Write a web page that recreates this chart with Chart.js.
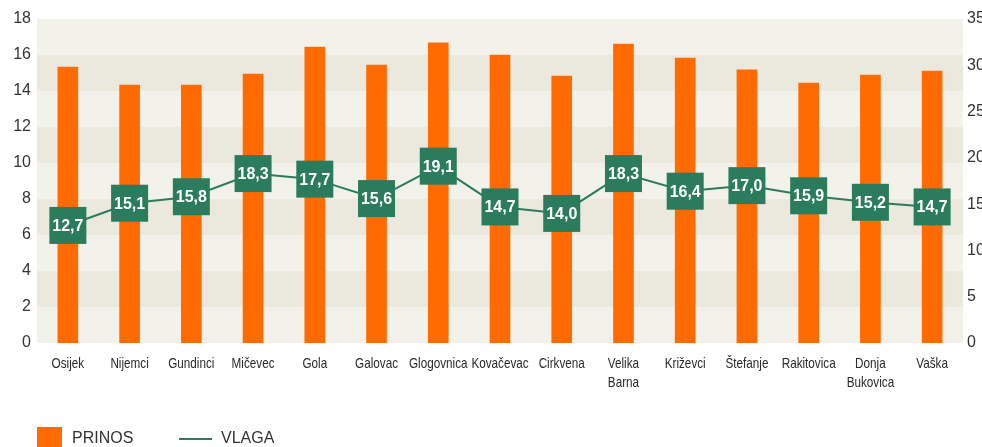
<!DOCTYPE html>
<html>
<head>
<meta charset="utf-8">
<script src="https://cdn.jsdelivr.net/npm/chart.js@4"></script>
<style>
    html, body { margin: 0; padding: 0; background: #fff; overflow: hidden; }
    #wrap { position: relative; width: 1000px; height: 447px; }
</style>
</head>
<body>
<div id="wrap"><canvas id="chart"></canvas></div>
<script>
// Chart data
const categories = ['Osijek', 'Nijemci', 'Gundinci', 'Mičevec', 'Gola', 'Galovac', 'Glogovnica', 'Kovačevac',
    'Cirkvena', ['Velika', 'Barna'], 'Križevci', 'Štefanje', 'Rakitovica', ['Donja', 'Bukovica'], 'Vaška'];
const prinos = [15.33, 14.33, 14.33, 14.94, 16.44, 15.44, 16.67, 16.0, 14.83, 16.61, 15.83, 15.17, 14.44, 14.89, 15.11];
const vlaga = [12.7, 15.1, 15.8, 18.3, 17.7, 15.6, 19.1, 14.7, 14.0, 18.3, 16.4, 17.0, 15.9, 15.2, 14.7];
const leftTicks = [0, 2, 4, 6, 8, 10, 12, 14, 16, 18];
const rightTicks = [0, 5, 10, 15, 20, 25, 30, 35];

const ORANGE = '#ff6b00';
const GREEN = '#2b7c5d';
const TEXT = '#333333';

// Alternating background bands behind the plot
const bandsPlugin = {
    id: 'bands',
    beforeDatasetsDraw(chart) {
        const { ctx, chartArea } = chart;
        const y = chart.scales.y;
        ctx.save();
        for (let i = 0; i < leftTicks.length - 1; i++) {
            const top = y.getPixelForValue(leftTicks[i + 1]);
            const bottom = y.getPixelForValue(leftTicks[i]);
            ctx.fillStyle = (i % 2 === 1) ? '#ebe9dd' : '#f3f2ea';
            ctx.fillRect(chartArea.left, top, chartArea.right - chartArea.left, bottom - top);
        }
        ctx.restore();
    }
};

// Condensed category labels (no narrow font available, so squeeze the regular one)
const xLabelsPlugin = {
    id: 'xLabels',
    afterDraw(chart) {
        const { ctx, chartArea } = chart;
        const x = chart.scales.x;
        ctx.save();
        ctx.font = '15px "Liberation Sans", Arial, sans-serif';
        ctx.fillStyle = '#2a2a2a';
        ctx.textAlign = 'center';
        ctx.textBaseline = 'middle';
        categories.forEach((label, i) => {
            const lines = Array.isArray(label) ? label : [label];
            const cx = x.getPixelForValue(i);
            lines.forEach((line, j) => {
                ctx.save();
                ctx.translate(cx, chartArea.bottom + 21 + j * 18.5);
                ctx.scale(0.78, 1);
                ctx.fillText(line, 0, 0);
                ctx.restore();
            });
        });
        ctx.restore();
    }
};

// Green boxes with the moisture values
const boxLabelsPlugin = {
    id: 'boxLabels',
    afterDatasetsDraw(chart) {
        const { ctx } = chart;
        const meta = chart.getDatasetMeta(1);
        ctx.save();
        ctx.font = 'bold 16px "Liberation Sans", Arial, sans-serif';
        ctx.textAlign = 'center';
        ctx.textBaseline = 'middle';
        meta.data.forEach((pt, i) => {
            ctx.fillStyle = GREEN;
            ctx.fillRect(pt.x - 18.5, pt.y - 18.5, 37, 37);
            ctx.fillStyle = '#ffffff';
            ctx.fillText(vlaga[i].toFixed(1).replace('.', ','), pt.x, pt.y + 1);
        });
        ctx.restore();
    }
};

// Legend under the axis
const legendPlugin = {
    id: 'customLegend',
    afterDraw(chart) {
        const { ctx } = chart;
        const ds = chart.data.datasets;
        const cy = 439;
        ctx.save();
        ctx.fillStyle = ds[0].backgroundColor;
        ctx.fillRect(37, 427, 25, 22);
        ctx.font = '16px "Liberation Sans", Arial, sans-serif';
        ctx.textBaseline = 'middle';
        ctx.fillStyle = TEXT;
        ctx.fillText(ds[0].label, 72, cy);
        ctx.strokeStyle = ds[1].borderColor;
        ctx.lineWidth = 2;
        ctx.beginPath();
        ctx.moveTo(179, cy);
        ctx.lineTo(212, cy);
        ctx.stroke();
        ctx.fillText(ds[1].label, 221, cy);
        ctx.restore();
    }
};

new Chart(document.getElementById('chart'), {
    data: {
        labels: categories,
        datasets: [{
            type: 'bar',
            label: 'PRINOS',
            data: prinos,
            backgroundColor: ORANGE,
            barThickness: 20,
            yAxisID: 'y',
            order: 2,
        }, {
            type: 'line',
            label: 'VLAGA',
            data: vlaga,
            borderColor: GREEN,
            borderWidth: 2,
            pointRadius: 0,
            tension: 0,
            yAxisID: 'y1',
            order: 1,
        }],
    },
    options: {
        responsive: true,
        maintainAspectRatio: false,
        animation: false,
        layout: { padding: { top: 19, left: 0, right: 0, bottom: 0 } },
        plugins: {
            legend: { display: false },
            tooltip: { enabled: false },
        },
        scales: {
            x: {
                grid: { display: false, drawTicks: false },
                border: { display: false },
                ticks: { display: false },
                afterFit(scale) { scale.height = 104; },
            },
            y: {
                position: 'left',
                min: 0,
                max: 18,
                afterBuildTicks(scale) { scale.ticks = leftTicks.map(v => ({ value: v })); },
                grid: { display: false, drawTicks: false },
                border: { display: false },
                ticks: {
                    color: TEXT,
                    padding: 6,
                    font: { family: '"Liberation Sans", Arial, sans-serif', size: 16 },
                },
                afterFit(scale) { scale.width = 37; },
            },
            y1: {
                position: 'right',
                min: 0,
                max: 35,
                afterBuildTicks(scale) { scale.ticks = rightTicks.map(v => ({ value: v })); },
                grid: { display: false, drawTicks: false },
                border: { display: false },
                ticks: {
                    color: TEXT,
                    padding: 4,
                    font: { family: '"Liberation Sans", Arial, sans-serif', size: 16 },
                },
                afterFit(scale) { scale.width = 37; },
            },
        },
    },
    plugins: [bandsPlugin, boxLabelsPlugin, xLabelsPlugin, legendPlugin],
});
</script>
</body>
</html>
